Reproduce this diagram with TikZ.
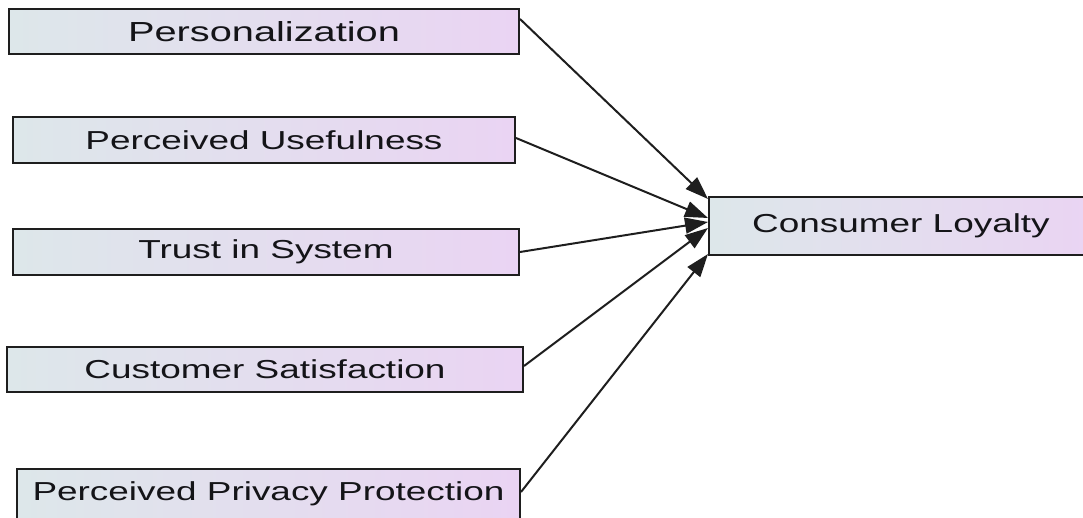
\documentclass[tikz,border=0pt]{standalone}
\usepackage{fontspec}
\setmainfont{Liberation Sans}
\usetikzlibrary{arrows.meta}
\definecolor{boxleft}{RGB}{221,231,234}
\definecolor{boxright}{RGB}{234,212,243}
\definecolor{edge}{RGB}{30,30,30}
\definecolor{ink}{RGB}{20,20,24}
\newcommand{\lbl}[1]{\scalebox{1.42}[1]{#1}}
\tikzset{
  factor/.style={draw=edge, line width=2pt, left color=boxleft, right color=boxright,
    rectangle, inner sep=0pt, text=ink, font=\fontsize{26}{30}\selectfont},
  link/.style={draw=edge, line width=2pt, -{Triangle[length=23pt,width=16pt]}}
}
\begin{document}
\begin{tikzpicture}[x=1pt,y=-1pt]
  \clip (0,0) rectangle (1083,518);
  \useasboundingbox (0,0) rectangle (1083,518);

  % predictor constructs
  \node[factor, minimum width=510pt, minimum height=45pt] (pers) at (264,31.5) {\scalebox{1.53}[1.06]{Personalization}};
  \node[factor, minimum width=502pt, minimum height=46pt] (use) at (264,140) {\lbl{Perceived Usefulness}};
  \node[factor, minimum width=506pt, minimum height=46pt] (trust) at (266,252) {\lbl{Trust in System}};
  \node[factor, minimum width=516pt, minimum height=45pt] (sat) at (265,369.5) {\lbl{Customer Satisfaction}};
  \node[factor, minimum width=503pt, minimum height=50pt] (priv) at (268.5,494) {\lbl{Perceived Privacy Protection}};

  % outcome construct
  \node[factor, minimum width=384pt, minimum height=58pt] (loyal) at (901,226) {\lbl{Consumer Loyalty}};

  % paths
  \draw[link] ([yshift=12.5pt]pers.east) -- ([yshift=-3pt]loyal.north west);
  \draw[link] ([yshift=2pt]use.east) -- ([yshift=8pt]loyal.west);
  \draw[link] (trust.east) -- ([yshift=4pt]loyal.west);
  \draw[link] ([yshift=3.5pt]sat.east) -- ([yshift=-2pt]loyal.west);
  \draw[link] ([yshift=2pt]priv.east) -- ([yshift=2pt]loyal.south west);
\end{tikzpicture}
\end{document}
